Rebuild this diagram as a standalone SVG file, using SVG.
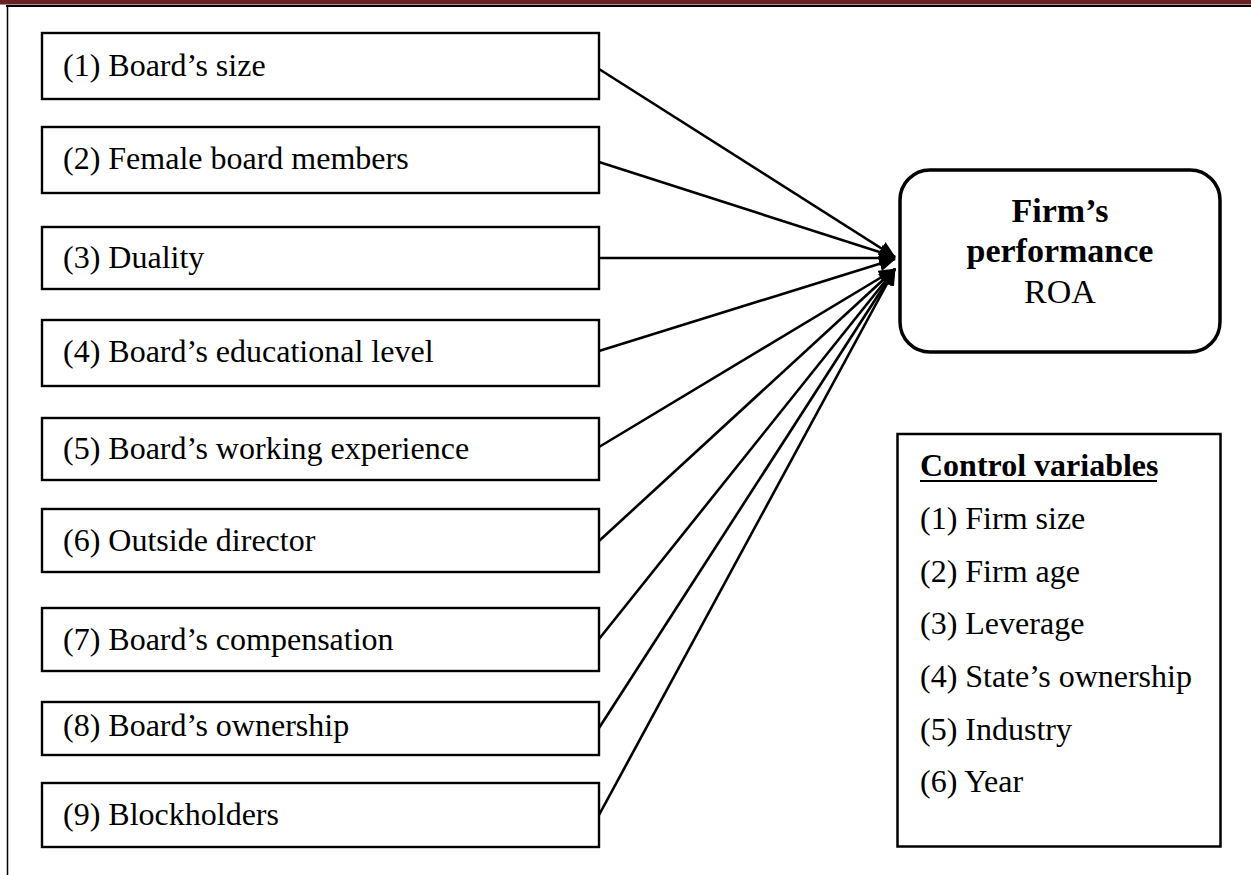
<svg xmlns="http://www.w3.org/2000/svg" width="1251" height="875" viewBox="0 0 1251 875">
  <style>
    .box { fill: #ffffff; stroke: #000000; stroke-width: 2.4; }
    .lbl { font-family: "Liberation Serif", "Times New Roman", serif; font-size: 32px; fill: #000000; }
    .big { font-size: 34px; }
    .bold { font-weight: bold; }
    .edge { stroke: #000000; stroke-width: 2.6; fill: none; marker-end: url(#arrow); }
  </style>
  <defs>
    <marker id="arrow" markerUnits="userSpaceOnUse" markerWidth="17" markerHeight="15" refX="16" refY="7.5" orient="auto">
      <path d="M0,0 L17,7.5 L0,15 Z" fill="#000000"/>
    </marker>
  </defs>

  <rect width="1251" height="875" fill="#ffffff"/>

  <!-- page frame -->
  <g id="frame">
    <rect x="0" y="0" width="1251" height="4.5" fill="#6a1f23"/>
    <line x1="6" y1="6" x2="1251" y2="6" stroke="#000000" stroke-width="1.8"/>
    <line x1="7.5" y1="6" x2="7.5" y2="875" stroke="#000000" stroke-width="1.5"/>
  </g>

  <!-- connectors -->
  <g id="connectors">
    <line class="edge" x1="599" y1="69" x2="895" y2="257"/>
    <line class="edge" x1="599" y1="162" x2="895" y2="257"/>
    <line class="edge" x1="599" y1="258" x2="895" y2="258"/>
    <line class="edge" x1="599" y1="351" x2="895" y2="259"/>
    <line class="edge" x1="599" y1="447" x2="895" y2="269"/>
    <line class="edge" x1="599" y1="541" x2="895" y2="269"/>
    <line class="edge" x1="599" y1="639" x2="895" y2="269"/>
    <line class="edge" x1="599" y1="728" x2="895" y2="269"/>
    <line class="edge" x1="599" y1="815" x2="895" y2="269"/>
  </g>

  <!-- board characteristics -->
  <g id="n1">
    <rect class="box" x="42" y="33" width="557" height="66"/>
    <text class="lbl" x="63" y="76">(1) Board’s size</text>
  </g>
  <g id="n2">
    <rect class="box" x="42" y="127" width="557" height="66"/>
    <text class="lbl" x="63" y="169">(2) Female board members</text>
  </g>
  <g id="n3">
    <rect class="box" x="42" y="227" width="557" height="62"/>
    <text class="lbl" x="63" y="268">(3) Duality</text>
  </g>
  <g id="n4">
    <rect class="box" x="42" y="320" width="557" height="66"/>
    <text class="lbl" x="63" y="362">(4) Board’s educational level</text>
  </g>
  <g id="n5">
    <rect class="box" x="42" y="418" width="557" height="62"/>
    <text class="lbl" x="63" y="459">(5) Board’s working experience</text>
  </g>
  <g id="n6">
    <rect class="box" x="42" y="509" width="557" height="63"/>
    <text class="lbl" x="63" y="551">(6) Outside director</text>
  </g>
  <g id="n7">
    <rect class="box" x="42" y="608" width="557" height="63"/>
    <text class="lbl" x="63" y="650">(7) Board’s compensation</text>
  </g>
  <g id="n8">
    <rect class="box" x="42" y="702" width="557" height="53"/>
    <text class="lbl" x="63" y="736">(8) Board’s ownership</text>
  </g>
  <g id="n9">
    <rect class="box" x="42" y="783" width="557" height="64"/>
    <text class="lbl" x="63" y="825">(9) Blockholders</text>
  </g>

  <!-- outcome -->
  <g id="performance">
    <rect x="900" y="170" width="320" height="182" rx="30" ry="30" fill="#ffffff" stroke="#000000" stroke-width="3.5"/>
    <text class="lbl big bold" x="1060" y="222" text-anchor="middle">Firm’s</text>
    <text class="lbl big bold" x="1060" y="262" text-anchor="middle">performance</text>
    <text class="lbl big" x="1060" y="303" text-anchor="middle">ROA</text>
  </g>

  <!-- controls -->
  <g id="controls">
    <rect x="897.5" y="434" width="323" height="412.5" fill="#ffffff" stroke="#000000" stroke-width="2.5"/>
    <text class="lbl bold" x="920" y="476">Control variables</text>
    <line x1="920" y1="481" x2="1157" y2="481" stroke="#000000" stroke-width="2"/>
    <text class="lbl" x="920" y="529">(1) Firm size</text>
    <text class="lbl" x="920" y="581.5">(2) Firm age</text>
    <text class="lbl" x="920" y="634">(3) Leverage</text>
    <text class="lbl" x="920" y="687">(4) State’s ownership</text>
    <text class="lbl" x="920" y="739.5">(5) Industry</text>
    <text class="lbl" x="920" y="792">(6) Year</text>
  </g>
</svg>
